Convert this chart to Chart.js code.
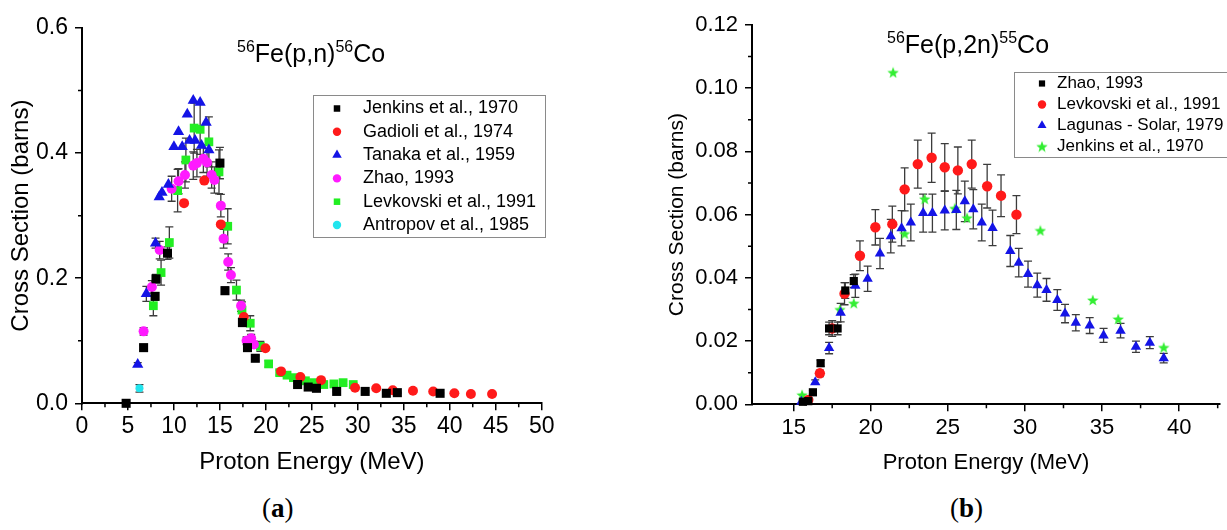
<!DOCTYPE html>
<html>
<head>
<meta charset="utf-8">
<script src="https://cdn.jsdelivr.net/npm/chart.js@4.4.1/dist/chart.umd.min.js"></script>
<style>
  html, body { margin:0; padding:0; background:#fff; }
  body { width:1227px; height:530px; position:relative; overflow:hidden; font-family:"Liberation Sans", Arial, sans-serif; }
  .wrap { position:absolute; top:0; height:480px; }
  #wrapA { left:0; width:560px; }
  #wrapB { left:620px; width:607px; }
  .ttl { position:absolute; font-size:25px; line-height:25px; white-space:nowrap; color:#000; }
  .ttl span { font-size:16px; position:relative; top:-10px; }
  .cap { position:absolute; top:493px; font-family:"Liberation Serif", "DejaVu Serif", serif; font-size:27px; line-height:30px; color:#000; }
</style>
</head>
<body>
<div class="wrap" id="wrapA"><canvas id="chartA"></canvas></div>
<div class="wrap" id="wrapB"><canvas id="chartB"></canvas></div>
<div class="ttl" style="left:237px; top:41px;"><span>56</span>Fe(p,n)<span>56</span>Co</div>
<div class="ttl" style="left:887px; top:32px;"><span>56</span>Fe(p,2n)<span>55</span>Co</div>
<div class="cap" style="left:262px;">(<b>a</b>)</div>
<div class="cap" style="left:950px;">(<b>b</b>)</div>
<script>
/* ---------- (a) 56Fe(p,n)56Co ---------- */
const aXTicks = [0, 5, 10, 15, 20, 25, 30, 35, 40, 45, 50];
const aXMinor = [2.5, 7.5, 12.5, 17.5, 22.5, 27.5, 32.5, 37.5, 42.5, 47.5];
const aYTicks = [0, 0.2, 0.4, 0.6];
const aYMinor = [0.1, 0.3, 0.5];

const aJenkinsX   = [4.8, 6.7, 7.95, 8.05, 9.3, 15.0, 15.55, 17.45, 18.0, 18.85, 23.45, 24.6, 25.5, 27.7, 30.8, 33.1, 34.3, 38.95];
const aJenkinsY   = [0.0, 0.089, 0.171, 0.199, 0.24, 0.384, 0.18, 0.129, 0.089, 0.072, 0.030, 0.026, 0.024, 0.019, 0.019, 0.016, 0.017, 0.016];
const aJenkinsErr = [0, 0.004, 0.006, 0.007, 0.01, 0.025, 0.006, 0.006, 0.004, 0.004, 0.002, 0.002, 0.002, 0.001, 0.001, 0.001, 0.001, 0.001];

const aGadioliX = [11.1, 13.3, 15.1, 17.6, 19.95, 21.65, 23.75, 26.0, 29.7, 32.0, 33.8, 36.0, 38.2, 40.5, 42.3, 44.6];
const aGadioliY = [0.32, 0.356, 0.286, 0.138, 0.088, 0.051, 0.042, 0.037, 0.025, 0.024, 0.021, 0.020, 0.019, 0.016, 0.015, 0.015];

const aTanakaX   = [6.06, 7.0, 8.0, 8.4, 8.7, 9.4, 10.0, 10.5, 10.9, 11.45, 11.7, 12.1, 12.3, 12.85, 13.0, 13.5, 13.8];
const aTanakaY   = [0.062, 0.175, 0.256, 0.33, 0.337, 0.35, 0.41, 0.434, 0.41, 0.462, 0.42, 0.484, 0.42, 0.481, 0.412, 0.449, 0.405];
const aTanakaErr = [0.003, 0.012, 0.008, 0, 0, 0, 0, 0, 0, 0, 0, 0, 0, 0, 0, 0, 0];

const aZhaoX   = [6.7, 7.6, 8.45, 9.75, 10.5, 11.2, 12.1, 12.5, 13.2, 13.6, 14.1, 14.4, 15.1, 15.4, 15.9, 16.2, 17.3, 17.9, 18.4, 18.7];
const aZhaoY   = [0.115, 0.186, 0.245, 0.343, 0.355, 0.365, 0.38, 0.384, 0.391, 0.385, 0.365, 0.357, 0.316, 0.263, 0.226, 0.205, 0.156, 0.100, 0.104, 0.094];
const aZhaoErr = [0.006, 0.01, 0.014, 0.02, 0.02, 0.021, 0.022, 0.022, 0.022, 0.022, 0.021, 0.021, 0.018, 0.015, 0.013, 0.012, 0.009, 0.006, 0.006, 0.005];

const aLevkovskiX   = [7.76, 8.6, 9.5, 10.4, 11.3, 12.2, 12.85, 13.8, 14.9, 15.85, 16.8, 17.4, 18.3, 19.4, 20.3, 21.5, 22.3, 23.0, 23.7, 24.3, 25.2, 25.8, 26.3, 27.4, 28.4, 29.5];
const aLevkovskiY   = [0.156, 0.209, 0.257, 0.34, 0.389, 0.44, 0.438, 0.418, 0.37, 0.283, 0.181, 0.149, 0.128, 0.091, 0.063, 0.049, 0.045, 0.041, 0.038, 0.036, 0.033, 0.031, 0.030, 0.031, 0.033, 0.030];
const aLevkovskiErr = [0.016, 0.02, 0.025, 0.034, 0.035, 0.04, 0.04, 0.04, 0.035, 0.028, 0.016, 0.013, 0.012, 0.008, 0.005, 0.004, 0.004, 0.003, 0.003, 0.003, 0.003, 0.003, 0.003, 0.003, 0.003, 0.003];

const aAntropovX   = [6.25];
const aAntropovY   = [0.024];
const aAntropovErr = [0.006];

/* ---------- (b) 56Fe(p,2n)55Co ---------- */
const bXTicks = [15, 20, 25, 30, 35, 40];
const bXMinor = [17.5, 22.5, 27.5, 32.5, 37.5, 42.5];
const bYTicks = [0, 0.02, 0.04, 0.06, 0.08, 0.10, 0.12];
const bYMinor = [0.01, 0.03, 0.05, 0.07, 0.09, 0.11];

const bZhaoX   = [15.6, 15.95, 16.25, 16.75, 17.3, 17.85, 18.35, 18.9];
const bZhaoY   = [0.0008, 0.001, 0.0038, 0.013, 0.024, 0.024, 0.036, 0.039];
const bZhaoErr = [0, 0, 0.0005, 0.001, 0.002, 0.002, 0.0025, 0.002];

const bLevkovskiX   = [15.95, 16.7, 17.5, 18.3, 19.3, 20.3, 21.4, 22.2, 23.05, 23.95, 24.8, 25.65, 26.55, 27.55, 28.45, 29.45];
const bLevkovskiY   = [0.0014, 0.0098, 0.024, 0.035, 0.047, 0.056, 0.057, 0.068, 0.076, 0.078, 0.075, 0.074, 0.076, 0.069, 0.066, 0.06];
const bLevkovskiErr = [0.0005, 0.001, 0.0025, 0.0035, 0.0047, 0.0056, 0.0057, 0.0068, 0.0076, 0.0078, 0.0075, 0.0074, 0.0076, 0.0069, 0.0066, 0.006];

const bLagunasX   = [15.5, 16.4, 17.3, 18.05, 19.0, 19.8, 20.6, 21.3, 22.0, 22.6, 23.4, 24.0, 24.8, 25.55, 26.1, 26.65, 27.2, 27.9, 29.05, 29.6, 30.2, 30.8, 31.4, 32.1, 32.6, 33.3, 34.2, 35.1, 36.2, 37.2, 38.1, 39.0];
const bLagunasY   = [0.0008, 0.007, 0.0178, 0.029, 0.0375, 0.0397, 0.0477, 0.0532, 0.0557, 0.0575, 0.0605, 0.0605, 0.0613, 0.0615, 0.0642, 0.0617, 0.0575, 0.0558, 0.0485, 0.0448, 0.0412, 0.0377, 0.0362, 0.033, 0.0287, 0.0258, 0.0249, 0.0218, 0.0233, 0.0182, 0.0195, 0.0146];
const bLagunasErr = [0, 0.0007, 0.0018, 0.0029, 0.0037, 0.004, 0.0048, 0.0053, 0.0056, 0.0058, 0.006, 0.006, 0.0061, 0.0062, 0.0064, 0.0062, 0.0058, 0.0056, 0.0049, 0.0045, 0.0041, 0.0038, 0.0036, 0.0033, 0.0029, 0.0026, 0.0025, 0.0022, 0.0023, 0.0018, 0.0019, 0.0015];

const bJenkinsX = [15.55, 18.0, 18.9, 21.45, 22.2, 23.5, 25.45, 26.25, 31.0, 34.4, 36.05, 39.0];
const bJenkinsY = [0.003, 0.030, 0.032, 0.105, 0.054, 0.065, 0.062, 0.059, 0.055, 0.033, 0.027, 0.018];

const FONT = '"Liberation Sans", Arial, sans-serif';

/* ---------- helpers ---------- */
function pts(xs, ys){ return xs.map((x, i) => ({ x, y: ys[i] })); }

function starImage(color, size){
  const c = document.createElement('canvas');
  c.width = c.height = size;
  const g = c.getContext('2d');
  g.fillStyle = color;
  g.beginPath();
  for (let k = 0; k < 10; k++) {
    const r = k % 2 ? size * 0.21 : size * 0.5;
    const a = -Math.PI / 2 + k * Math.PI / 5;
    g.lineTo(size / 2 + r * Math.cos(a), size / 2 + r * Math.sin(a) + size * 0.05);
  }
  g.closePath();
  g.fill();
  return c;
}

// vertical error bars, drawn under the markers
const errorBars = {
  id: 'errorBars',
  beforeDatasetsDraw(chart){
    const ctx = chart.ctx, ys = chart.scales.y;
    ctx.save();
    ctx.strokeStyle = '#3c3c3c';
    ctx.lineWidth = 1.3;
    chart.data.datasets.forEach((ds, di) => {
      if (!ds.err) return;
      chart.getDatasetMeta(di).data.forEach((pt, i) => {
        const e = ds.err[i];
        if (!e) return;
        const v = ds.data[i].y;
        const top = ys.getPixelForValue(v + e), bot = ys.getPixelForValue(v - e);
        ctx.beginPath();
        ctx.moveTo(pt.x, top); ctx.lineTo(pt.x, bot);
        ctx.moveTo(pt.x - 4, top); ctx.lineTo(pt.x + 4, top);
        ctx.moveTo(pt.x - 4, bot); ctx.lineTo(pt.x + 4, bot);
        ctx.stroke();
      });
    });
    ctx.restore();
  }
};

// short outward minor ticks between the labelled ones
const minorTicks = {
  id: 'minorTicks',
  afterDraw(chart, args, opts){
    const { ctx, scales: { x, y } } = chart;
    ctx.save();
    ctx.strokeStyle = '#000';
    ctx.lineWidth = 1.5;
    ctx.beginPath();
    opts.x.forEach(v => { const p = x.getPixelForValue(v); ctx.moveTo(p, x.top); ctx.lineTo(p, x.top + opts.len); });
    opts.y.forEach(v => { const p = y.getPixelForValue(v); ctx.moveTo(y.right, p); ctx.lineTo(y.right - opts.len, p); });
    ctx.stroke();
    ctx.restore();
  }
};

// framed legend placed inside the plot
const boxLegend = {
  id: 'boxLegend',
  afterDraw(chart, args, o){
    const ctx = chart.ctx;
    ctx.save();
    ctx.fillStyle = '#fff';
    ctx.fillRect(o.x, o.y, o.w, o.h);
    ctx.strokeStyle = '#8a8a8a';
    ctx.lineWidth = 1;
    ctx.strokeRect(o.x + 0.5, o.y + 0.5, o.w, o.h);
    ctx.font = o.font;
    ctx.textBaseline = 'middle';
    ctx.textAlign = 'left';
    chart.data.datasets.forEach((ds, i) => {
      const yy = o.top + i * o.dy;
      ctx.fillStyle = ds.backgroundColor;
      Chart.helpers.drawPoint(ctx, { pointStyle: ds.pointStyle, radius: ds.legendRadius, rotation: 0, borderWidth: 0 }, o.markX, yy);
      ctx.fillStyle = '#000';
      ctx.fillText(ds.label, o.textX, yy);
    });
    ctx.restore();
  }
};

function series(label, xs, ys, err, color, style, radius, legendRadius){
  return {
    label, data: pts(xs, ys), err,
    backgroundColor: color, borderColor: color, borderWidth: 0,
    pointStyle: style, pointRadius: radius, pointHoverRadius: radius,
    legendRadius, clip: false
  };
}

function axis(min, max, major, fmt, size, h, title, titleSize, titlePad, isX){
  const s = {
    type: 'linear', min, max,
    afterBuildTicks: sc => { sc.ticks = major.map(v => ({ value: v })); },
    grid: { drawOnChartArea: false, drawTicks: true, tickLength: 7, color: '#000', lineWidth: 1.5 },
    border: { display: true, color: '#000', width: 2 },
    ticks: { color: '#000', font: { family: FONT, size }, padding: isX ? 3 : 7, maxRotation: 0, autoSkip: false, callback: v => fmt(v) },
    title: { display: true, text: title, color: '#000', font: { family: FONT, size: titleSize }, padding: titlePad }
  };
  if (isX) s.afterFit = sc => { sc.height = h; };
  else s.afterFit = sc => { sc.width = h; };
  return s;
}

function baseOptions(pad, scales, minor, legend){
  return {
    responsive: true, maintainAspectRatio: false, animation: false,
    layout: { padding: pad },
    events: [],
    plugins: { legend: { display: false }, tooltip: { enabled: false }, minorTicks: minor, boxLegend: legend },
    scales
  };
}

/* ---------- chart (a) ---------- */
new Chart(document.getElementById('chartA'), {
  type: 'scatter',
  data: { datasets: [
    series('Jenkins et al., 1970', aJenkinsX, aJenkinsY, aJenkinsErr, '#000000', 'rect', 6.4, 4.6),
    series('Gadioli et al., 1974', aGadioliX, aGadioliY, null, '#ff1a1a', 'circle', 5, 4.2),
    series('Tanaka et al., 1959', aTanakaX, aTanakaY, aTanakaErr, '#1414e6', 'triangle', 6.5, 5.5),
    series('Zhao, 1993', aZhaoX, aZhaoY, aZhaoErr, '#ff1aff', 'circle', 5, 4.2),
    series('Levkovski et al., 1991', aLevkovskiX, aLevkovskiY, aLevkovskiErr, '#22ee22', 'rect', 6.2, 4.6),
    series('Antropov et al., 1985', aAntropovX, aAntropovY, aAntropovErr, '#22e5ee', 'circle', 4, 4.2)
  ] },
  options: baseOptions({ top: 28, right: 18.3, left: 0, bottom: 0 }, {
    x: axis(0, 50, aXTicks, v => String(v), 23, 76.7, 'Proton Energy (MeV)', 24, { top: 0, bottom: 3 }, true),
    y: axis(0, 0.6, aYTicks, v => v.toFixed(1), 23, 82, 'Cross Section (barns)', 24, { top: 7, bottom: 0 }, false)
  },
  { x: aXMinor, y: aYMinor, len: 4 },
  { x: 313, y: 95, w: 232, h: 142, top: 108.5, dy: 23.3, markX: 337, textX: 363, font: '18px ' + FONT }),
  plugins: [errorBars, minorTicks, boxLegend]
});

/* ---------- chart (b) ---------- */
const greenStar = starImage('#33ee33', 12);
const bJenkins = series('Jenkins et al., 1970', bJenkinsX, bJenkinsY, null, '#33ee33', greenStar, 6, 5);

new Chart(document.getElementById('chartB'), {
  type: 'scatter',
  data: { datasets: [
    series('Zhao, 1993', bZhaoX, bZhaoY, bZhaoErr, '#000000', 'rect', 5.8, 4.4),
    series('Levkovski et al., 1991', bLevkovskiX, bLevkovskiY, bLevkovskiErr, '#ff1a1a', 'circle', 5.2, 4.2),
    series('Lagunas - Solar, 1979', bLagunasX, bLagunasY, bLagunasErr, '#1414e6', 'triangle', 6, 5.2),
    bJenkins
  ] },
  options: baseOptions({ top: 25, right: 7, left: 0, bottom: 0 }, {
    x: axis(12.3, 42.65, bXTicks, v => String(v), 22, 75.7, 'Proton Energy (MeV)', 22, { top: 0, bottom: 3.8 }, true),
    y: axis(0, 0.12, bYTicks, v => v.toFixed(2), 22, 132, 'Cross Section (barns)', 21, { top: 45, bottom: 0 }, false)
  },
  { x: bXMinor, y: bYMinor, len: 4 },
  { x: 394, y: 72, w: 220, h: 85, top: 83.5, dy: 21, markX: 422, textX: 437, font: '17px ' + FONT }),
  plugins: [errorBars, minorTicks, boxLegend]
});
</script>
</body>
</html>
